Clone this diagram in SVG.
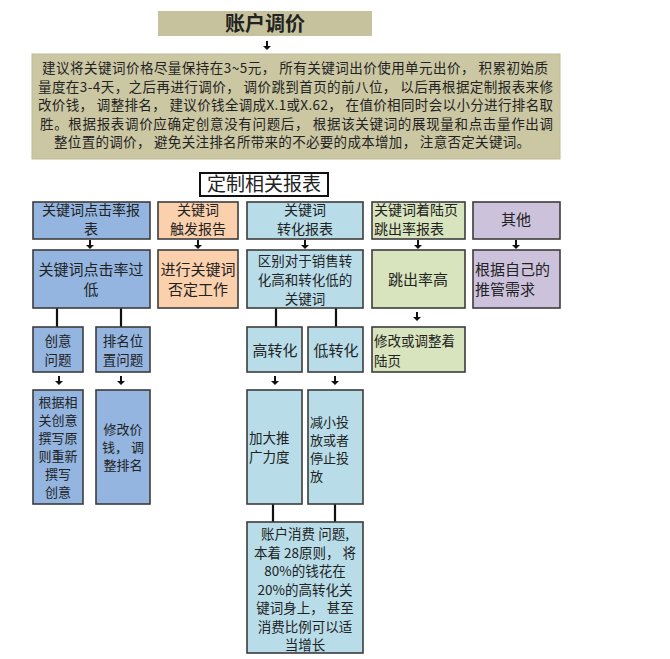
<svg xmlns="http://www.w3.org/2000/svg" width="670" height="659" viewBox="0 0 670 659">
<style>
text{font-family:"Noto Sans CJK SC","Noto Sans",sans-serif;fill:#222;font-size:15px}
.c{text-anchor:middle}
.s{font-size:13px}
.m{font-size:13.5px}
.r1{font-size:14px}
.a{font-size:13.5px}
.box{stroke:#3c3c3c;stroke-width:1.6}
.blue{fill:#93b5e0}
.peach{fill:#fbd0ad}
.cyan{fill:#b8dde9}
.green{fill:#d8e4bd}
.lav{fill:#cdc2dc}
.ln{stroke:#111;stroke-width:2.2;fill:none}
</style>
<defs>
<g id="arr"><path d="M0,-5 V0" stroke="#111" stroke-width="2"/><path d="M-4,0 L4,0 L0,4 Z" fill="#111"/></g>
</defs>
<rect width="670" height="659" fill="#fff"/>

<g id="title">
<rect x="158" y="11" width="214" height="25" fill="#c6c29d"/>
<text x="265" y="31" class="c" style="font-size:20px;font-weight:bold">账户调价</text>
</g>

<g id="advice">
<rect x="32" y="54" width="528" height="105" fill="#cbc7a3" stroke="#bebb97"/>
<text class="a"><tspan x="42" y="73" textLength="506" lengthAdjust="spacing">建议将关键词价格尽量保持在3~5元， 所有关键词出价使用单元出价， 积累初始质</tspan><tspan x="38" y="91.5" textLength="515" lengthAdjust="spacing">量度在3-4天，之后再进行调价， 调价跳到首页的前八位， 以后再根据定制报表来修</tspan><tspan x="38" y="110" textLength="515" lengthAdjust="spacing">改价钱， 调整排名， 建议价钱全调成X.1或X.62， 在值价相同时会以小分进行排名取</tspan><tspan x="40" y="128.5" textLength="513" lengthAdjust="spacing">胜。根据报表调价应确定创意没有问题后， 根据该关键词的展现量和点击量作出调</tspan><tspan x="54" y="147" textLength="476" lengthAdjust="spacing">整位置的调价， 避免关注排名所带来的不必要的成本增加， 注意否定关键词。</tspan></text>
</g>

<g id="custom">
<rect x="200" y="173" width="128" height="23" fill="#fff" stroke="#111" stroke-width="2"/>
<text x="264" y="191" class="c" style="font-size:19px">定制相关报表</text>
</g>

<g id="connectors">
<use href="#arr" x="267" y="46"/>
<use href="#arr" x="90" y="245"/>
<use href="#arr" x="198" y="245"/>
<use href="#arr" x="305" y="245"/>
<use href="#arr" x="418" y="245"/>
<use href="#arr" x="516" y="245"/>
<path class="ln" d="M57,308 V327 M121,308 V327 M276,308 V327 M336,308 V327"/>
<use href="#arr" x="417" y="317"/>
<use href="#arr" x="59" y="381"/>
<use href="#arr" x="121" y="381"/>
<use href="#arr" x="275" y="381"/>
<use href="#arr" x="335" y="381"/>
<path class="ln" d="M273,503 V522 M335,503 V522"/>
</g>

<g id="ctr-report">
<rect class="box blue" x="33" y="202" width="117" height="37"/>
<text class="c r1"><tspan x="91" y="215">关键词点击率报</tspan><tspan x="91" y="234">表</tspan></text>
</g>
<g id="trigger-report">
<rect class="box peach" x="158" y="202" width="80" height="37"/>
<text class="c r1"><tspan x="198" y="215">关键词</tspan><tspan x="198" y="234">触发报告</tspan></text>
</g>
<g id="conv-report">
<rect class="box cyan" x="247" y="202" width="116" height="37"/>
<text class="c r1"><tspan x="305" y="215">关键词</tspan><tspan x="305" y="234">转化报表</tspan></text>
</g>
<g id="bounce-report">
<rect class="box green" x="372" y="202" width="93" height="37"/>
<text class="r1"><tspan x="374" y="215">关键词着陆页</tspan><tspan x="374" y="234">跳出率报表</tspan></text>
</g>
<g id="other">
<rect class="box lav" x="473" y="202" width="87" height="37"/>
<text x="516" y="225" class="c">其他</text>
</g>

<g id="ctr-low">
<rect class="box blue" x="33" y="250" width="117" height="58"/>
<text class="c"><tspan x="91" y="275">关键词点击率过</tspan><tspan x="91" y="295">低</tspan></text>
</g>
<g id="negative">
<rect class="box peach" x="158" y="250" width="80" height="58"/>
<text class="c"><tspan x="198" y="275">进行关键词</tspan><tspan x="198" y="295">否定工作</tspan></text>
</g>
<g id="distinguish">
<rect class="box cyan" x="247" y="250" width="116" height="58"/>
<text class="c m"><tspan x="305" y="266">区别对于销售转</tspan><tspan x="305" y="285">化高和转化低的</tspan><tspan x="305" y="304">关键词</tspan></text>
</g>
<g id="bounce-high">
<rect class="box green" x="372" y="250" width="93" height="58"/>
<text x="418" y="285" class="c">跳出率高</text>
</g>
<g id="own-needs">
<rect class="box lav" x="473" y="250" width="87" height="58"/>
<text><tspan x="475" y="275">根据自己的</tspan><tspan x="475" y="295">推管需求</tspan></text>
</g>

<g id="creative">
<rect class="box blue" x="33" y="327" width="50" height="45"/>
<text class="c m"><tspan x="58" y="346">创意</tspan><tspan x="58" y="365">问题</tspan></text>
</g>
<g id="rank">
<rect class="box blue" x="96" y="327" width="54" height="45"/>
<text class="c m"><tspan x="123" y="346">排名位</tspan><tspan x="123" y="365">置问题</tspan></text>
</g>
<g id="high-conv">
<rect class="box cyan" x="247" y="327" width="55" height="45"/>
<text x="275" y="356" class="c">高转化</text>
</g>
<g id="low-conv">
<rect class="box cyan" x="308" y="327" width="55" height="45"/>
<text x="336" y="356" class="c">低转化</text>
</g>
<g id="landing">
<rect class="box green" x="372" y="327" width="93" height="45"/>
<text class="m"><tspan x="374" y="346">修改或调整着</tspan><tspan x="374" y="366">陆页</tspan></text>
</g>

<g id="rewrite">
<rect class="box blue" x="33" y="390" width="50" height="114"/>
<text class="c s"><tspan x="58" y="407">根据相</tspan><tspan x="58" y="425">关创意</tspan><tspan x="58" y="443">撰写原</tspan><tspan x="58" y="461">则重新</tspan><tspan x="58" y="479">撰写</tspan><tspan x="58" y="497">创意</tspan></text>
</g>
<g id="adjust-price">
<rect class="box blue" x="96" y="390" width="54" height="114"/>
<text class="c s"><tspan x="123" y="434">修改价</tspan><tspan x="123" y="452">钱， 调</tspan><tspan x="123" y="470">整排名</tspan></text>
</g>
<g id="increase">
<rect class="box cyan" x="247" y="390" width="55" height="114"/>
<text class="m"><tspan x="249" y="443">加大推</tspan><tspan x="249" y="462">广力度</tspan></text>
</g>
<g id="reduce">
<rect class="box cyan" x="308" y="390" width="55" height="114"/>
<text class="s"><tspan x="310" y="427">减小投</tspan><tspan x="310" y="445">放或者</tspan><tspan x="310" y="463">停止投</tspan><tspan x="310" y="481">放</tspan></text>
</g>

<g id="spend">
<rect class="box cyan" x="247" y="522" width="116" height="131"/>
<text class="c m"><tspan x="305" y="539">账户消费 问题,</tspan><tspan x="305" y="557.5">本着 28原则， 将</tspan><tspan x="305" y="576">80%的钱花在</tspan><tspan x="305" y="594.5">20%的高转化关</tspan><tspan x="305" y="613">键词身上， 甚至</tspan><tspan x="305" y="631.5">消费比例可以适</tspan><tspan x="305" y="650">当增长</tspan></text>
</g>
</svg>
